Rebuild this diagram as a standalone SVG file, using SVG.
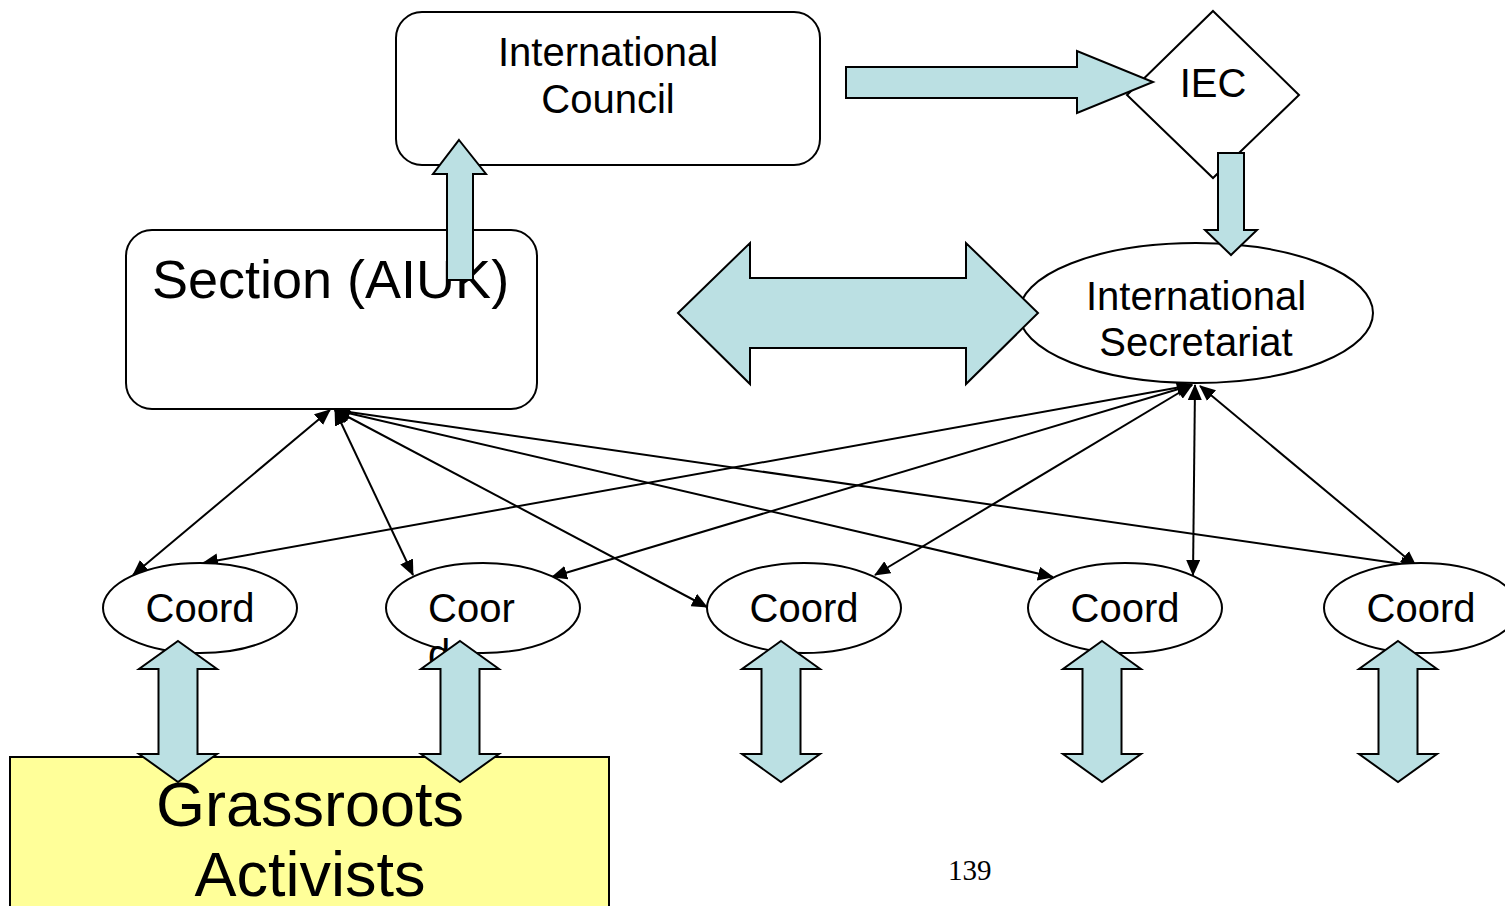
<svg xmlns="http://www.w3.org/2000/svg" width="1505" height="906" viewBox="0 0 1505 906">
<style>
.node{fill:#fff;stroke:#000;stroke-width:2}
.blk{fill:#BBE0E3;stroke:#000;stroke-width:2;stroke-linejoin:miter}
.t{font-family:"Liberation Sans",Arial,sans-serif;fill:#000}
.conn{stroke:#000;stroke-width:2;fill:none;marker-start:url(#ah);marker-end:url(#ah)}
</style>
<defs>
<marker id="ah" markerUnits="userSpaceOnUse" markerWidth="16" markerHeight="14" refX="15" refY="7" orient="auto-start-reverse" viewBox="0 0 16 14">
<path d="M0,0 L16,7 L0,14 z" fill="#000"/>
</marker>
</defs>
<rect width="1505" height="906" fill="#fff"/>

<g id="grassroots">
<rect x="10" y="757" width="599" height="160" fill="#FFFF99" stroke="#000" stroke-width="2"/>
</g>

<g id="connectors">
<line class="conn" x1="330" y1="410" x2="133" y2="575"/>
<line class="conn" x1="335" y1="410" x2="413" y2="575"/>
<line class="conn" x1="335" y1="410" x2="707" y2="607"/>
<line class="conn" x1="335" y1="410" x2="1053" y2="577"/>
<line class="conn" x1="335" y1="410" x2="1416" y2="566"/>
<line class="conn" x1="1192" y1="385" x2="203" y2="563"/>
<line class="conn" x1="1192" y1="385" x2="552" y2="577"/>
<line class="conn" x1="1192" y1="385" x2="875" y2="575"/>
<line class="conn" x1="1195" y1="385" x2="1193" y2="575"/>
<line class="conn" x1="1200" y1="386" x2="1416" y2="566"/>
</g>

<g id="council">
<rect class="node" x="396" y="12" width="424" height="153" rx="26"/>
<text class="t" x="608" y="66" font-size="40" text-anchor="middle">International</text>
<text class="t" x="608" y="113" font-size="40" text-anchor="middle">Council</text>
</g>

<g id="section">
<rect class="node" x="126" y="230" width="411" height="179" rx="26"/>
<text class="t" x="152" y="298" font-size="54">Section (AIUK)</text>
</g>

<g id="iec">
<polygon class="node" points="1213,11 1299,95 1213,178 1127,95"/>
<text class="t" x="1213" y="97" font-size="40" text-anchor="middle">IEC</text>
</g>

<g id="secretariat">
<ellipse class="node" cx="1196" cy="313" rx="177" ry="70"/>
<text class="t" x="1196" y="310" font-size="40" text-anchor="middle">International</text>
<text class="t" x="1196" y="356" font-size="40" text-anchor="middle">Secretariat</text>
</g>

<g id="coord1">
<ellipse class="node" cx="200" cy="608" rx="97" ry="45"/>
<text class="t" x="200" y="622" font-size="40" text-anchor="middle">Coord</text>
</g>
<g id="coord2">
<ellipse class="node" cx="483" cy="608" rx="97" ry="45"/>
<text class="t" x="428" y="622" font-size="40">Coor</text>
<text class="t" x="428" y="668" font-size="40">d</text>
</g>
<g id="coord3">
<ellipse class="node" cx="804" cy="608" rx="97" ry="45"/>
<text class="t" x="804" y="622" font-size="40" text-anchor="middle">Coord</text>
</g>
<g id="coord4">
<ellipse class="node" cx="1125" cy="608" rx="97" ry="45"/>
<text class="t" x="1125" y="622" font-size="40" text-anchor="middle">Coord</text>
</g>
<g id="coord5">
<ellipse class="node" cx="1421" cy="608" rx="97" ry="45"/>
<text class="t" x="1421" y="622" font-size="40" text-anchor="middle">Coord</text>
</g>

<g id="block-arrows">
<polygon class="blk" points="459,140 486,174 473,174 473,280 447,280 447,174 433,174"/>
<polygon class="blk" points="846,67 1077,67 1077,51 1153,82 1077,113 1077,98 846,98"/>
<polygon class="blk" points="1218,153 1244,153 1244,230 1257,230 1231,255 1205,230 1218,230"/>
<polygon class="blk" points="678,313 750,243 750,278 966,278 966,243 1038,313 966,384 966,348 750,348 750,384"/>
<polygon class="blk" points="178,641 217,669 197.5,669 197.5,754 217,754 178,782 139,754 158.5,754 158.5,669 139,669"/>
<polygon class="blk" points="460,641 499,669 479.5,669 479.5,754 499,754 460,782 421,754 440.5,754 440.5,669 421,669"/>
<polygon class="blk" points="781,641 820,669 800.5,669 800.5,754 820,754 781,782 742,754 761.5,754 761.5,669 742,669"/>
<polygon class="blk" points="1102,641 1141,669 1121.5,669 1121.5,754 1141,754 1102,782 1063,754 1082.5,754 1082.5,669 1063,669"/>
<polygon class="blk" points="1398,641 1437,669 1417.5,669 1417.5,754 1437,754 1398,782 1359,754 1378.5,754 1378.5,669 1359,669"/>
</g>

<g id="grassroots-text">
<text class="t" x="310" y="826" font-size="63" text-anchor="middle">Grassroots</text>
<text class="t" x="310" y="896" font-size="63" text-anchor="middle">Activists</text>
</g>

<text x="948" y="880" font-family="'Liberation Serif','Times New Roman',serif" font-size="29">139</text>
</svg>
